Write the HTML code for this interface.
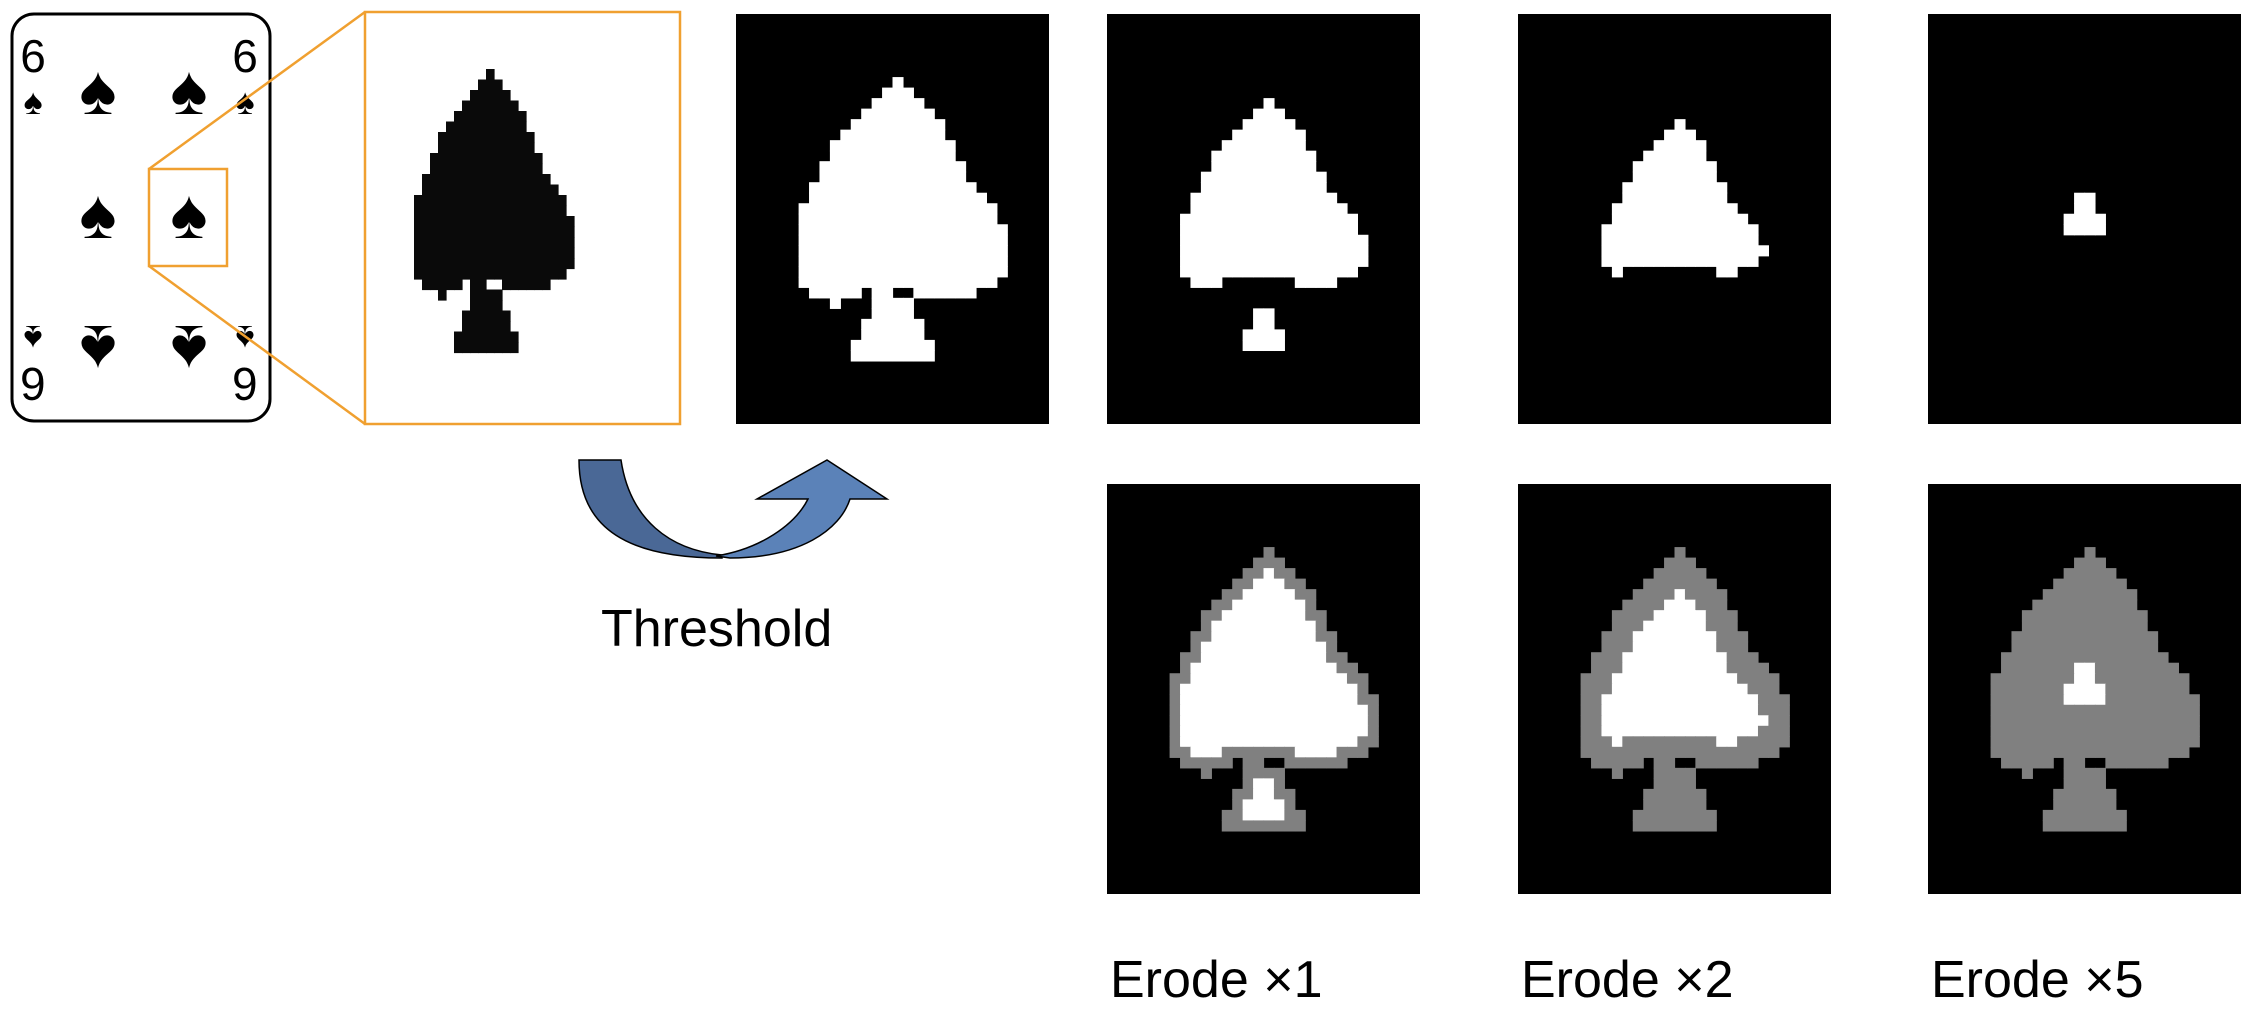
<!DOCTYPE html>
<html><head><meta charset="utf-8"><style>
html,body{margin:0;padding:0;background:#fff;width:2254px;height:1020px;overflow:hidden}
svg{display:block}
text{font-family:"Liberation Sans",Arial,sans-serif}
</style></head><body>
<svg id="s" width="2254" height="1020" xmlns="http://www.w3.org/2000/svg">
<rect x="12" y="14" width="258" height="407" rx="22" fill="#fff" stroke="#000" stroke-width="3"/>
<g font-family="DejaVu Sans,sans-serif" fill="#000">
<text x="33" y="72" font-size="46" text-anchor="middle" style="font-family:'Liberation Sans',sans-serif">6</text>
<text x="33" y="114" font-size="36" text-anchor="middle">♠</text>
<text x="245" y="72" font-size="46" text-anchor="middle" style="font-family:'Liberation Sans',sans-serif">6</text>
<text x="245" y="114" font-size="36" text-anchor="middle">♠</text>
<text x="98" y="114" font-size="70" text-anchor="middle">♠</text>
<text x="189" y="114" font-size="70" text-anchor="middle">♠</text>
<text x="98" y="238" font-size="70" text-anchor="middle">♠</text>
<text x="189" y="238" font-size="70" text-anchor="middle">♠</text>
<g transform="rotate(180 98 350)"><text x="98" y="374" font-size="70" text-anchor="middle">♠</text></g>
<g transform="rotate(180 189 350)"><text x="189" y="374" font-size="70" text-anchor="middle">♠</text></g>
<g transform="rotate(180 33 385)"><text x="33" y="402" font-size="46" text-anchor="middle" style="font-family:'Liberation Sans',sans-serif">6</text></g>
<g transform="rotate(180 33 338)"><text x="33" y="350" font-size="36" text-anchor="middle">♠</text></g>
<g transform="rotate(180 245 385)"><text x="245" y="402" font-size="46" text-anchor="middle" style="font-family:'Liberation Sans',sans-serif">6</text></g>
<g transform="rotate(180 245 338)"><text x="245" y="350" font-size="36" text-anchor="middle">♠</text></g>
</g>
<rect x="149" y="169" width="78" height="97" fill="none" stroke="#f0a030" stroke-width="2.5"/>
<line x1="149" y1="169" x2="365" y2="12" stroke="#f0a030" stroke-width="2.5"/>
<line x1="149" y1="266" x2="365" y2="424" stroke="#f0a030" stroke-width="2.5"/>
<rect x="365" y="12" width="315" height="412" fill="#fff" stroke="#f0a030" stroke-width="2.5"/>
<g id="big"></g>
<g id="panels"></g>
<path d="M579,460 L621,460 C630,520 670,550 722,555 L722,558 C630,558 579,530 579,460 Z" fill="#4a6896" stroke="#000" stroke-width="1.5"/>
<path d="M716,556 C760,549 795,525 808,499 L757,499 L827,460 L887,499 L850,499 C840,530 800,558 730,558 Z" fill="#5b82b8" stroke="#000" stroke-width="1.5"/>
<text x="601" y="646" font-size="52">Threshold</text>
<text x="1110" y="997" font-size="52">Erode ×1</text>
<text x="1521" y="997" font-size="52">Erode ×2</text>
<text x="1931" y="997" font-size="52">Erode ×5</text>
</svg>
<script>
var R=39,C=30;
var rows={6:[[15,16]],7:[[14,17]],8:[[13,18]],9:[[12,19]],10:[[11,20]],11:[[10,20]],12:[[9,21]],13:[[9,21]],14:[[8,22]],15:[[8,22]],16:[[7,23]],17:[[7,24]],18:[[6,25]],19:[[6,25]],20:[[6,26]],21:[[6,26]],22:[[6,26]],23:[[6,26]],24:[[6,26]],25:[[6,25]],26:[[7,12],[13,15],[17,23]],27:[[9,10],[13,17]],28:[[13,17]],29:[[12,18]],30:[[12,18]],31:[[11,19]],32:[[11,19]]};
var M=[];for(var r=0;r<R;r++){M.push([]);for(var c=0;c<C;c++){var v=0;(rows[r]||[]).forEach(function(s){if(c>=s[0]&&c<s[1])v=1});M[r].push(v)}}
function erode(A){var B=[];for(var r=0;r<R;r++){B.push([]);for(var c=0;c<C;c++){var v=A[r][c];if(v){for(var dr=-1;dr<=1;dr++)for(var dc=-1;dc<=1;dc++){var rr=r+dr,cc=c+dc;if(rr<0||cc<0||rr>=R||cc>=C||!A[rr][cc])v=0}}B[r].push(v)}}return B}
var E=[M];for(var i=1;i<=5;i++)E.push(erode(E[i-1]));
var NS="http://www.w3.org/2000/svg";
function rect(g,x,y,w,h,f){var e=document.createElementNS(NS,"rect");e.setAttribute("x",x);e.setAttribute("y",y);e.setAttribute("width",w);e.setAttribute("height",h);e.setAttribute("fill",f);g.appendChild(e)}
function panel(x0,y0,w,h,A,base){var g=document.getElementById("panels");rect(g,x0,y0,w,h,"#000");var cw=w/C,ch=h/R;for(var r=0;r<R;r++)for(var c=0;c<C;c++){var f=null;if(A[r][c])f="#fff";else if(base&&M[r][c])f="#808080";if(f)rect(g,x0+c*cw,y0+r*ch,cw+0.6,ch+0.6,f)}}
panel(736,14,313,410,M,false);
var xs=[1107,1518,1928],ks=[1,2,5];
for(var i=0;i<3;i++){panel(xs[i],14,313,410,E[ks[i]],false);panel(xs[i],484,313,410,E[ks[i]],true);}
var g=document.getElementById("big");
for(var r=0;r<R;r++)for(var c=0;c<C;c++)if(M[r][c])rect(g,366+c*8,6+r*10.5,8.6,11.1,"#0a0a0a");
</script>
</body></html>
